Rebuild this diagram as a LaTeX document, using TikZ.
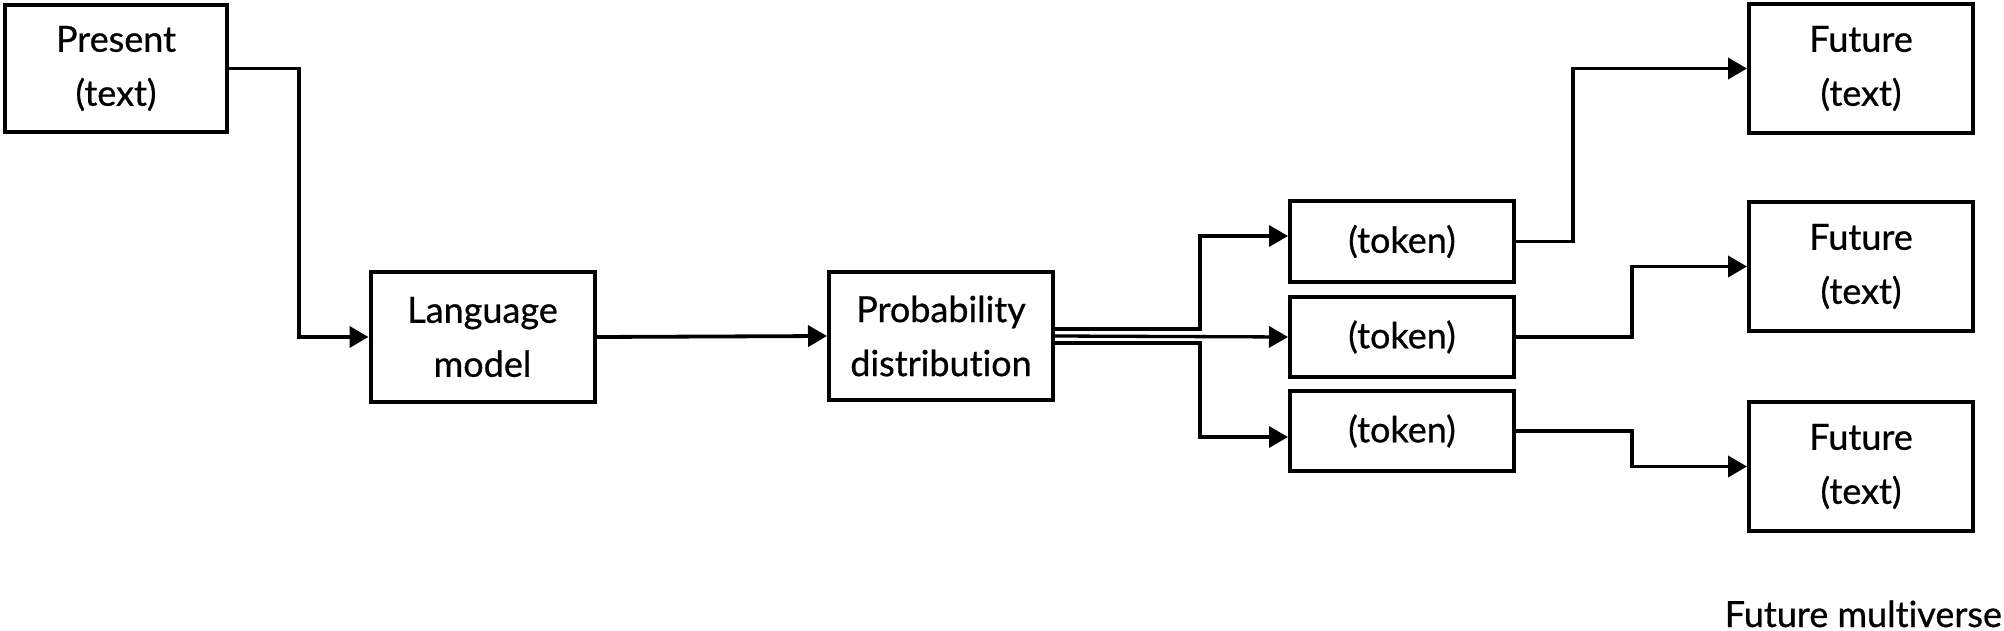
\documentclass[tikz,border=0pt]{standalone}
\usepackage{fontspec}
\setmainfont{Lato}[Ligatures=NoCommon, BoldFont=Lato, BoldFeatures={FakeBold=0.7}]
\usetikzlibrary{arrows.meta}
\begin{document}
\begin{tikzpicture}[x=1pt,y=-1pt,
  lbl/.style={font=\fontsize{36}{54}\selectfont\bfseries},
  box/.style={draw, line width=4pt, inner sep=0pt, align=center, lbl},
  bigbox/.style={box, minimum width=224pt, minimum height=129pt},
  tokbox/.style={box, minimum width=224pt, minimum height=81pt},
  conn/.style={line width=3.8pt, -{Triangle[length=19pt,width=21pt]}},
  thinconn/.style={conn, line width=3.3pt}]
\useasboundingbox (0,0) rectangle (2004,631);
\node[bigbox, minimum width=222pt, minimum height=127pt] (pres) at (116,68.5) {Present\\(text)};
\node[bigbox, minimum height=130pt] (lm) at (482.5,337) {Language\\model};
\node[bigbox, minimum height=128pt] (pd) at (941,336) {Probability\\distribution};
\node[tokbox] (t1) at (1402,241.5) {(token)};
\node[tokbox, minimum height=80pt] (t2) at (1402,337) {(token)};
\node[tokbox, minimum height=80pt] (t3) at (1402,431) {(token)};
\node[bigbox] (f1) at (1861,68.5) {Future\\(text)};
\node[bigbox] (f2) at (1861,266.5) {Future\\(text)};
\node[bigbox] (f3) at (1861,466.5) {Future\\(text)};
\node[anchor=base east, inner sep=0pt, lbl] (mv) at (2002,627) {Future multiverse};
\coordinate (x1) at (299,0);
\coordinate (x2) at (1200,0);
\coordinate (x3) at (1573,0);
\coordinate (x4) at (1632,0);
\coordinate (p1) at ([yshift=7pt]pd.east);
\coordinate (p3) at ([yshift=-7pt]pd.east);
\coordinate (e1) at ([yshift=5.5pt]t1.west);
\coordinate (e3) at ([yshift=-6pt]t3.west);
\draw[conn] (pres.east) -- (pres.east -| x1) -- (x1 |- lm.west) -- (lm.west);
\draw[conn] (lm.west -| lm.east) -- (pd.west);
\draw[thinconn] (p1) -- (p1 -| x2) -- (x2 |- e1) -- (e1);
\draw[thinconn] (pd.east) -- (t2.west);
\draw[thinconn] (p3) -- (p3 -| x2) -- (x2 |- e3) -- (e3);
\draw[conn] (t1.east) -- (t1.east -| x3) -- (x3 |- f1.west) -- (f1.west);
\draw[conn] (t2.east) -- (t2.east -| x4) -- (x4 |- f2.west) -- (f2.west);
\draw[conn] (t3.east) -- (t3.east -| x4) -- (x4 |- f3.west) -- (f3.west);
\end{tikzpicture}
\end{document}
